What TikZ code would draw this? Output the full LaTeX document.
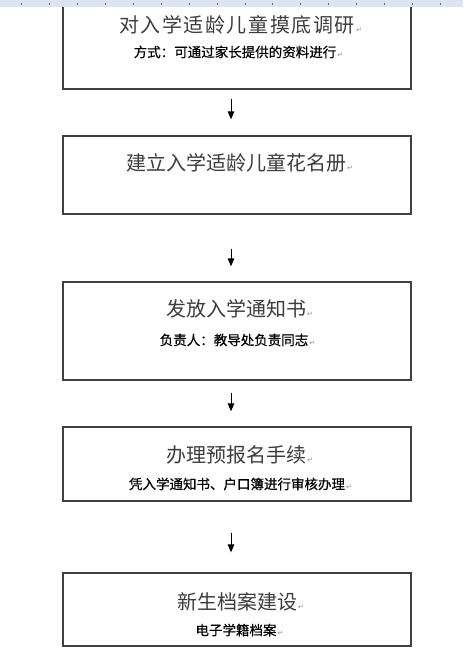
\documentclass[tikz,border=0pt]{standalone}
\usepackage{fontspec}
\setmainfont{Noto Sans CJK SC}
\newfontfamily\cjk{Noto Sans CJK SC}
\newfontfamily\cjksemi[FakeBold=0.6]{Noto Sans CJK SC}
\newfontfamily\symfont{DejaVu Sans}
\usetikzlibrary{arrows.meta,calc}
\definecolor{boxline}{HTML}{404040}
\definecolor{titlegray}{HTML}{3C3C3C}
\definecolor{rulerblue}{HTML}{DAE4F2}
\newcommand\pmark{\rlap{\hspace{1pt}\symfont\fontsize{7}{7}\selectfont\color{black!45}↵}}
\tikzset{
  flowbox/.style={draw=boxline, line width=1.3pt, minimum width=348pt, inner sep=0pt},
  titletext/.style={font=\cjk\fontsize{20}{22}\selectfont, text=titlegray, inner sep=0pt},
  subtext/.style={font=\cjksemi\fontsize{13.5}{15}\selectfont, text=black, inner sep=0pt},
  flowarrow/.style={line width=1pt, -{Triangle[length=8pt,width=6.5pt]}, draw=black},
  tick/.style={draw=black!60, line width=0.8pt}
}
\begin{document}
\begin{tikzpicture}[x=1pt,y=-1pt]
\useasboundingbox (0,0) rectangle (463,653);
% boxes
\node[flowbox, minimum height=86pt] (b1) at (237,46) {};
\node[flowbox, minimum height=78pt] (b2) at (237,175) {};
\node[flowbox, minimum height=98pt] (b3) at (237,331) {};
\node[flowbox, minimum height=74pt] (b4) at (237,464) {};
\node[flowbox, minimum height=73pt] (b5) at (237,609.5) {};
% texts
\node[titletext] (t1) at (237,25) {\addfontfeature{LetterSpace=8}对入学适龄儿童摸底调研\pmark};
\node[subtext] (s1) at (235,52) {方式：可通过家长提供的资料进行\pmark};
\node[titletext] (t2) at (236,163) {建立入学适龄儿童花名册\pmark};
\node[titletext] (t3) at (236,309) {发放入学通知书\pmark};
\node[subtext] (s3) at (234,340) {负责人：教导处负责同志\pmark};
\node[titletext] (t4) at (236,455) {办理预报名手续\pmark};
\node[subtext] (s4) at (237,484) {凭入学通知书、户口簿进行审核办理\pmark};
\node[titletext] (t5) at (237,602) {新生档案建设\pmark};
\node[subtext] (s5) at (236,630) {电子学籍档案\pmark};
% arrows
\draw[flowarrow] ($(b1.south)+(-6,9)$) -- ($(b2.north)+(-6,-16)$);
\draw[flowarrow] ($(b2.south)+(-6,34)$) -- ($(b3.north)+(-6,-15)$);
\draw[flowarrow] ($(b3.south)+(-6,12)$) -- ($(b4.north)+(-6,-15)$);
\draw[flowarrow] ($(b4.south)+(-6,31)$) -- ($(b5.north)+(-6,-20)$);
% ruler band
\fill[rulerblue] (0,0) rectangle (463,7);
\foreach \k in {0,...,16} {
  \draw[tick] ({21.7+27.9*\k},2.5) -- ({21.7+27.9*\k},4.5);
}
\end{tikzpicture}
\end{document}
